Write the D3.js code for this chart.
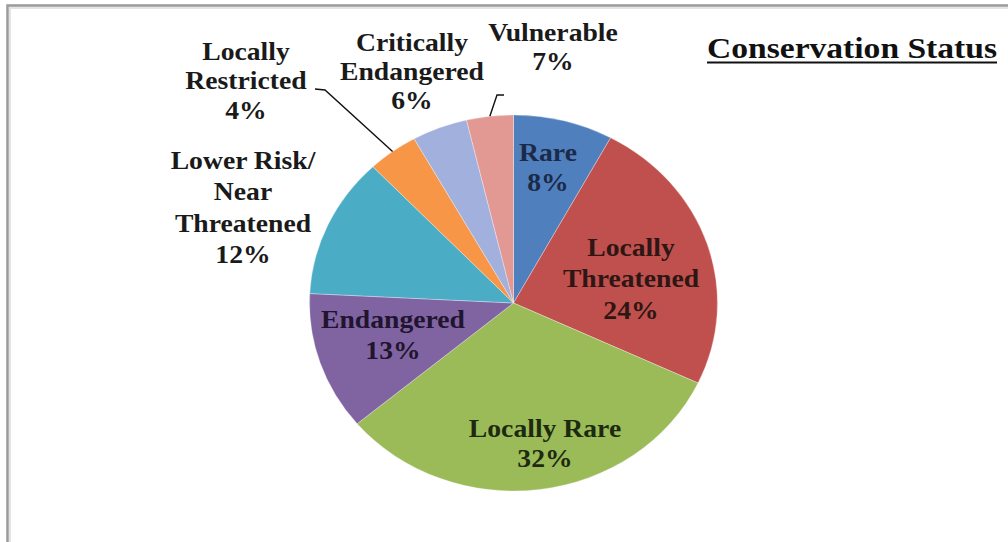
<!DOCTYPE html>
<html lang="en">
<head>
<meta charset="UTF-8">
<title>Conservation Status</title>
<script src="https://cdn.jsdelivr.net/npm/d3@7"></script>
<style>
    body{ margin:0; background:#fff; }
    #chart text{ font-family:"Liberation Serif","Times New Roman",serif; font-weight:bold; }
</style>
</head>
<body>
<svg id="chart" width="1008" height="542"></svg>
<script>
    // data
    const categories = ["Rare", "Locally Threatened", "Locally Rare", "Endangered",
        "Lower Risk/ Near Threatened", "Locally Restricted", "Critically Endangered", "Vulnerable"]
    // slice sizes as drawn (%)
    const shares = [7.9, 24.1, 31.9, 11.9, 12.1, 4.0, 4.4, 3.7]
    // percentages as printed on the labels
    const pctLabels = ["8%", "24%", "32%", "13%", "12%", "4%", "6%", "7%"]
    const nameLines = [["Rare"], ["Locally", "Threatened"], ["Locally Rare"], ["Endangered"],
        ["Lower Risk/", "Near", "Threatened"], ["Locally", "Restricted"], ["Critically", "Endangered"], ["Vulnerable"]]
    const title = "Conservation Status"

    const colors = ["#4f7fbd", "#c0504d", "#9bbb59", "#8064a2", "#4bacc6", "#f79646", "#a2b0dd", "#e29893"]
    const textColors = ["#1c2a4a", "#2e1614", "#1d2a10", "#21142e", "#1a1a1a", "#1a1a1a", "#1a1a1a", "#1a1a1a"]

    // layout (page coords): centre x, y of first line, line step
    const labelPos = [
        [548, 152, 30], [631, 247, 31.5], [545, 428, 30], [393, 319, 31],
        [243, 160, 31.5], [246, 51, 29.5], [412, 42, 29], [553, 32, 29.5]
    ]
    // leader lines for outside labels: [start, elbow], end goes to slice edge
    const leaders = {5: [[315, 89], [325, 90]], 7: [[504, 95], [497, 95]]}

    const cx = 513.5, cy = 303, r = 188, sx = 1.085

    const svg = d3.select("#chart")

    // frame
    svg.append("path").attr("d", "M1008,5.5H7.5V542")
        .attr("fill", "none").attr("stroke", "#9a9a9a").attr("stroke-width", 2.5)
    svg.append("path").attr("d", "M1008,8H10V542")
        .attr("fill", "none").attr("stroke", "#e4e4e4").attr("stroke-width", 2)

    const pie = d3.pie().sort(null).value(d => d)
    const arcs = pie(shares)
    const arc = d3.arc().innerRadius(0).outerRadius(r)
    const edge = d3.arc().innerRadius(r).outerRadius(r)

    const g = svg.append("g").attr("transform", `translate(${cx},${cy}) scale(${sx},1)`)
    g.selectAll("path")
        .data(arcs)
        .enter()
        .append("path")
        .attr("d", arc)
        .attr("fill", (d, i) => colors[i])
        .attr("stroke", "#ffffff")
        .attr("stroke-opacity", 0.5)
        .attr("stroke-width", 0.6)

    // leader lines
    Object.keys(leaders).forEach(k => {
        const i = +k
        const p = edge.centroid(arcs[i])
        const pts = leaders[k].concat([[cx + p[0] * sx, cy + p[1]]])
        svg.append("path")
            .attr("d", d3.line()(pts))
            .attr("fill", "none")
            .attr("stroke", "#111")
            .attr("stroke-width", 1.4)
    })

    // labels
    const labels = g.selectAll("text.lbl")
        .data(arcs)
        .enter()
        .append("text")
        .attr("class", "lbl")
        .attr("text-anchor", "middle")
        .attr("font-size", 25.5)
        .attr("fill", (d, i) => textColors[i])
    labels.each(function (d, i) {
        const [x, y, step] = labelPos[i]
        const lines = nameLines[i].concat([pctLabels[i]])
        d3.select(this).selectAll("tspan")
            .data(lines)
            .enter()
            .append("tspan")
            .attr("x", (x - cx) / sx)
            .attr("y", (t, j) => y - cy + j * step)
            .attr("dy", "0.35em")
            .text(t => t)
    })

    // title
    svg.append("text")
        .attr("x", 707).attr("y", 58)
        .attr("font-size", 30)
        .attr("fill", "#111")
        .attr("textLength", 290)
        .attr("lengthAdjust", "spacingAndGlyphs")
        .text(title)
    svg.append("line")
        .attr("x1", 707).attr("x2", 997)
        .attr("y1", 62.5).attr("y2", 62.5)
        .attr("stroke", "#111").attr("stroke-width", 2)
</script>
</body>
</html>
